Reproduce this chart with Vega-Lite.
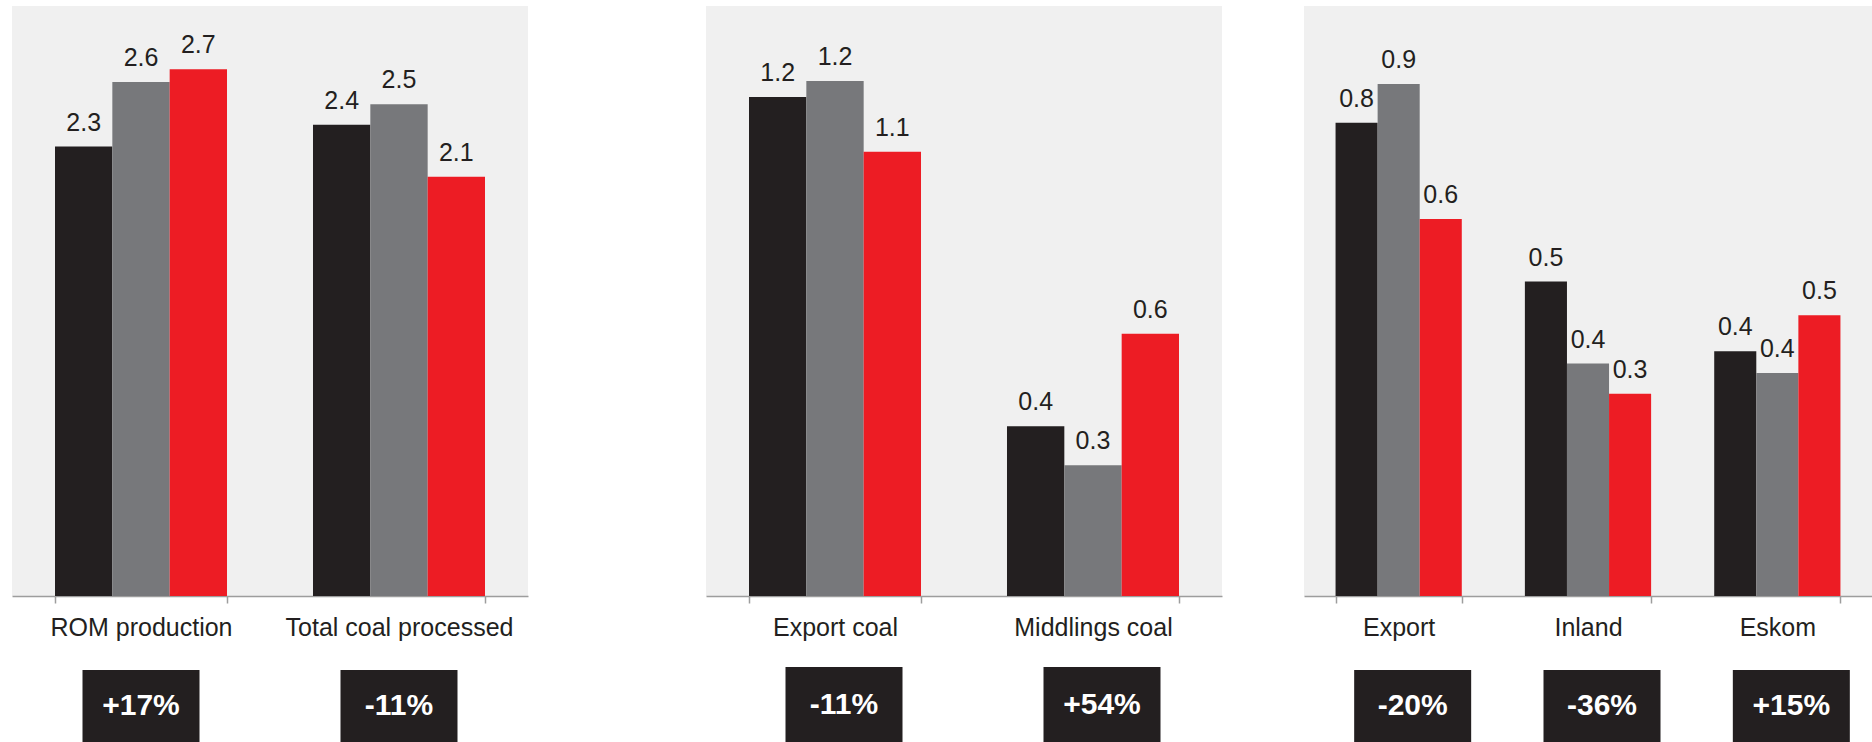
{
  "$schema": "https://vega.github.io/schema/vega-lite/v6.json",
  "background": "white",
  "padding": {"left": 12, "top": 6, "right": 0, "bottom": 0},
  "config": {
    "view": {"stroke": null},
    "font": "Liberation Sans",
    "axisX": {
      "title": null,
      "labelAngle": 0,
      "labelFontSize": 25,
      "labelFont": "Liberation Sans",
      "labelColor": "#231f20",
      "labelBaseline": "alphabetic",
      "labelPadding": 32,
      "labelLimit": 600,
      "tickSize": 7,
      "tickBand": "extent",
      "domainColor": "#9d9d9d",
      "tickColor": "#9d9d9d",
      "domainWidth": 1.5,
      "tickWidth": 1.5,
      "grid": false
    }
  },
  "datasets": {
    "production": [
      {"category": "ROM production", "period": "Period 1", "value": 2.285},
      {"category": "ROM production", "period": "Period 2", "value": 2.614},
      {"category": "ROM production", "period": "Period 3", "value": 2.678},
      {"category": "Total coal processed", "period": "Period 1", "value": 2.396},
      {"category": "Total coal processed", "period": "Period 2", "value": 2.5},
      {"category": "Total coal processed", "period": "Period 3", "value": 2.132}
    ],
    "production_change": [
      {"category": "ROM production", "change": "+17%"},
      {"category": "Total coal processed", "change": "-11%"}
    ],
    "saleable": [
      {"category": "Export coal", "period": "Period 1", "value": 1.184},
      {"category": "Export coal", "period": "Period 2", "value": 1.222},
      {"category": "Export coal", "period": "Period 3", "value": 1.054},
      {"category": "Middlings coal", "period": "Period 1", "value": 0.403},
      {"category": "Middlings coal", "period": "Period 2", "value": 0.31},
      {"category": "Middlings coal", "period": "Period 3", "value": 0.622}
    ],
    "saleable_change": [
      {"category": "Export coal", "change": "-11%"},
      {"category": "Middlings coal", "change": "+54%"}
    ],
    "sales": [
      {"category": "Export", "period": "Period 1", "value": 0.802},
      {"category": "Export", "period": "Period 2", "value": 0.868},
      {"category": "Export", "period": "Period 3", "value": 0.639},
      {"category": "Inland", "period": "Period 1", "value": 0.533},
      {"category": "Inland", "period": "Period 2", "value": 0.394},
      {"category": "Inland", "period": "Period 3", "value": 0.343},
      {"category": "Eskom", "period": "Period 1", "value": 0.415},
      {"category": "Eskom", "period": "Period 2", "value": 0.378},
      {"category": "Eskom", "period": "Period 3", "value": 0.476}
    ],
    "sales_change": [
      {"category": "Export", "change": "-20%"},
      {"category": "Inland", "change": "-36%"},
      {"category": "Eskom", "change": "+15%"}
    ]
  },
  "spacing": 178,
  "resolve": {"scale": {"x": "independent", "xOffset": "independent", "y": "independent"}},
  "hconcat": [
    {
      "spacing": 74,
      "bounds": "flush",
      "resolve": {"scale": {"x": "independent", "xOffset": "independent", "y": "independent"}},
      "vconcat": [
        {
          "width": 516,
          "height": 590,
          "view": {"fill": "#f0f0f0", "stroke": null},
          "data": {"name": "production"},
          "encoding": {
            "x": {"field": "category", "type": "nominal", "sort": null, "scale": {"paddingInner": 0.3333, "paddingOuter": 0.16667}},
            "xOffset": {"field": "period", "type": "nominal", "sort": null, "scale": {"paddingInner": 0, "paddingOuter": 0}},
            "y": {"field": "value", "type": "quantitative", "scale": {"domain": [0, 3], "nice": false}, "axis": null},
            "color": {"field": "period", "type": "nominal", "scale": {"domain": ["Period 1", "Period 2", "Period 3"], "range": ["#231f20", "#77787b", "#ed1c24"]}, "legend": null}
          },
          "layer": [
            {"mark": {"type": "bar"}},
            {
              "mark": {"type": "text", "baseline": "alphabetic", "dy": -16, "fontSize": 25},
              "encoding": {
                "text": {"field": "value", "type": "quantitative", "format": ".1f"},
                "color": {"value": "#231f20"}
              }
            }
          ]
        },
        {
          "width": 516,
          "height": 72,
          "data": {"name": "production_change"},
          "encoding": {
            "x": {"field": "category", "type": "nominal", "sort": null, "scale": {"paddingInner": 0.3333, "paddingOuter": 0.16667}, "axis": null}
          },
          "layer": [
            {"mark": {"type": "bar", "width": 117, "color": "#231f20"}},
            {
              "mark": {"type": "text", "fontSize": 30, "fontWeight": "bold", "color": "white", "baseline": "middle"},
              "encoding": {"text": {"field": "change", "type": "nominal"}}
            }
          ]
        }
      ]
    },
    {
      "spacing": 82,
      "resolve": {"scale": {"x": "independent", "xOffset": "independent", "y": "independent"}},
      "hconcat": [
        {
          "spacing": 71,
          "bounds": "flush",
          "resolve": {"scale": {"x": "independent", "xOffset": "independent", "y": "independent"}},
          "vconcat": [
            {
              "width": 516,
              "height": 590,
              "view": {"fill": "#f0f0f0", "stroke": null},
              "data": {"name": "saleable"},
              "encoding": {
                "x": {"field": "category", "type": "nominal", "sort": null, "scale": {"paddingInner": 0.3333, "paddingOuter": 0.16667}},
                "xOffset": {"field": "period", "type": "nominal", "sort": null, "scale": {"paddingInner": 0, "paddingOuter": 0}},
                "y": {"field": "value", "type": "quantitative", "scale": {"domain": [0, 1.4], "nice": false}, "axis": null},
                "color": {"field": "period", "type": "nominal", "scale": {"domain": ["Period 1", "Period 2", "Period 3"], "range": ["#231f20", "#77787b", "#ed1c24"]}, "legend": null}
              },
              "layer": [
                {"mark": {"type": "bar"}},
                {
                  "mark": {"type": "text", "baseline": "alphabetic", "dy": -16, "fontSize": 25},
                  "encoding": {
                    "text": {"field": "value", "type": "quantitative", "format": ".1f"},
                    "color": {"value": "#231f20"}
                  }
                }
              ]
            },
            {
              "width": 516,
              "height": 75,
              "data": {"name": "saleable_change"},
              "encoding": {
                "x": {"field": "category", "type": "nominal", "sort": null, "scale": {"paddingInner": 0.3333, "paddingOuter": 0.16667}, "axis": null}
              },
              "layer": [
                {"mark": {"type": "bar", "width": 117, "color": "#231f20", "xOffset": 9}},
                {
                  "mark": {"type": "text", "fontSize": 30, "fontWeight": "bold", "color": "white", "baseline": "middle", "xOffset": 9},
                  "encoding": {"text": {"field": "change", "type": "nominal"}}
                }
              ]
            }
          ]
        },
        {
          "spacing": 74,
          "bounds": "flush",
          "resolve": {"scale": {"x": "independent", "xOffset": "independent", "y": "independent"}},
          "vconcat": [
            {
              "width": 568,
              "height": 590,
              "view": {"fill": "#f0f0f0", "stroke": null},
              "data": {"name": "sales"},
              "encoding": {
                "x": {"field": "category", "type": "nominal", "sort": null, "scale": {"paddingInner": 0.3333, "paddingOuter": 0.16667}},
                "xOffset": {"field": "period", "type": "nominal", "sort": null, "scale": {"paddingInner": 0, "paddingOuter": 0}},
                "y": {"field": "value", "type": "quantitative", "scale": {"domain": [0, 1], "nice": false}, "axis": null},
                "color": {"field": "period", "type": "nominal", "scale": {"domain": ["Period 1", "Period 2", "Period 3"], "range": ["#231f20", "#77787b", "#ed1c24"]}, "legend": null}
              },
              "layer": [
                {"mark": {"type": "bar"}},
                {
                  "mark": {"type": "text", "baseline": "alphabetic", "dy": -16, "fontSize": 25},
                  "encoding": {
                    "text": {"field": "value", "type": "quantitative", "format": ".1f"},
                    "color": {"value": "#231f20"}
                  }
                }
              ]
            },
            {
              "width": 568,
              "height": 72,
              "data": {"name": "sales_change"},
              "encoding": {
                "x": {"field": "category", "type": "nominal", "sort": null, "scale": {"paddingInner": 0.3333, "paddingOuter": 0.16667}, "axis": null}
              },
              "layer": [
                {"mark": {"type": "bar", "width": 117, "color": "#231f20", "xOffset": 14}},
                {
                  "mark": {"type": "text", "fontSize": 30, "fontWeight": "bold", "color": "white", "baseline": "middle", "xOffset": 14},
                  "encoding": {"text": {"field": "change", "type": "nominal"}}
                }
              ]
            }
          ]
        }
      ]
    }
  ]
}
